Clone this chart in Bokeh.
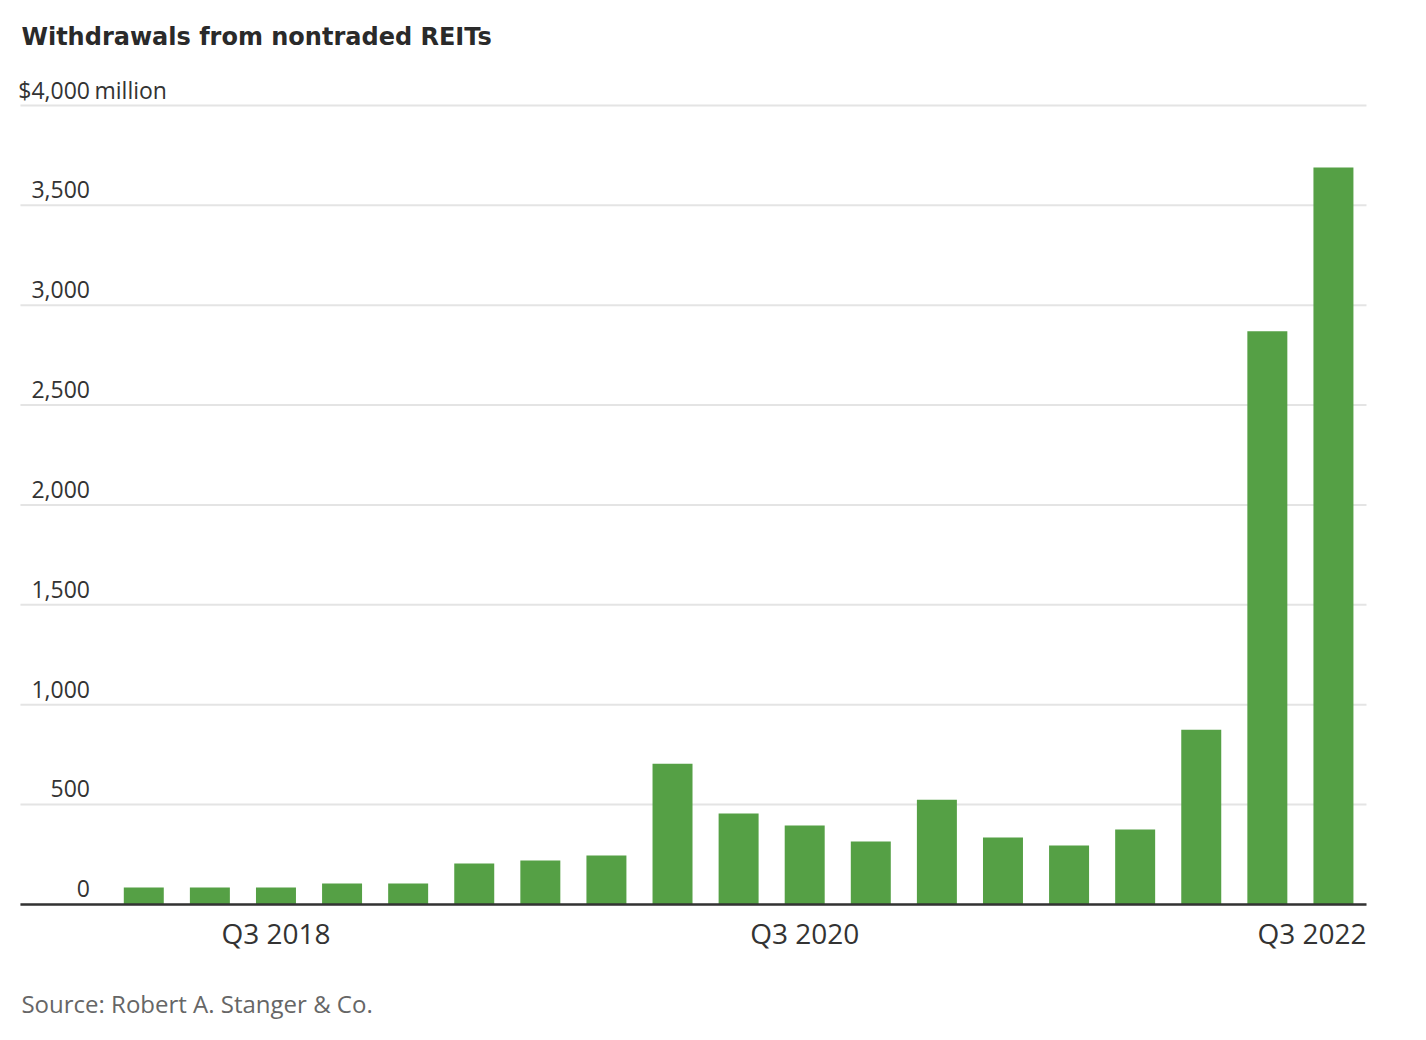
from bokeh.plotting import figure
from bokeh.models import Range1d, ColumnDataSource
from bokeh.core.properties import value
from bokeh.embed import file_html
from bokeh.resources import INLINE

# ---- data ----
quarters = ["Q1 2018", "Q2 2018", "Q3 2018", "Q4 2018",
            "Q1 2019", "Q2 2019", "Q3 2019", "Q4 2019",
            "Q1 2020", "Q2 2020", "Q3 2020", "Q4 2020",
            "Q1 2021", "Q2 2021", "Q3 2021", "Q4 2021",
            "Q1 2022", "Q2 2022", "Q3 2022"]
withdrawals = [85, 85, 85, 105, 105, 205, 220, 245, 705, 455, 395, 315,
               525, 335, 295, 375, 875, 2870, 3690]
y_ticks = [0, 500, 1000, 1500, 2000, 2500, 3000, 3500, 4000]
y_tick_labels = ["0", "500", "1,000", "1,500", "2,000", "2,500", "3,000", "3,500", "$4,000"]
y_unit = "million"
x_tick_labels = ["Q3 2018", "Q3 2020", "Q3 2022"]
title_text = "Withdrawals from nontraded REITs"
source_text = "Source: Robert A. Stanger & Co."

FONT = "Open Sans"
GREEN = "#55a045"
TXT = "#333333"

# plot-area extent (in data units) used for gridlines and baseline
X_LEFT, X_RIGHT = -1.866, 18.50
PX_PER_UNIT = 0.19976  # vertical pixels per million


def px_up(px):
    """convert a vertical pixel distance to data units"""
    return px / PX_PER_UNIT


x_idx = list(range(len(quarters)))
src = ColumnDataSource(dict(x=x_idx, top=withdrawals, q=quarters))

p = figure(width=1410, height=1024, output_backend="svg", toolbar_location=None,
           x_range=Range1d(-2.168, 19.166), y_range=Range1d(-600.7, 4525.4),
           min_border=0)
p.outline_line_color = None
p.xaxis.visible = False
p.yaxis.visible = False
p.grid.visible = False

# gridlines
p.segment(x0=[X_LEFT] * len(y_ticks), x1=[X_RIGHT] * len(y_ticks),
          y0=y_ticks, y1=y_ticks, line_color="#e4e4e4", line_width=2)

p.vbar(x="x", top="top", bottom=0, width=0.605, source=src,
       fill_color=GREEN, line_color=None)

# baseline
p.segment(x0=[X_LEFT], x1=[X_RIGHT], y0=[0], y1=[0], line_color="#333333", line_width=2.5)

# y tick labels, sitting above the gridlines
lift = px_up(6.5 + 9.2)
ylab = ColumnDataSource(dict(x=[-0.814] * len(y_ticks), y=[t + lift for t in y_ticks],
                             t=y_tick_labels))
p.text(x="x", y="y", text="t", source=ylab, text_align="right",
       text_baseline="alphabetic", text_font=value(FONT),
       text_font_size="23px", text_color=TXT)
p.text(x=[-0.746], y=[y_ticks[-1] + lift], text=[y_unit], text_align="left",
       text_baseline="alphabetic", text_font=value(FONT),
       text_font_size="23px", text_color=TXT)

# x tick labels
x_label_pos = [quarters.index(l) for l in x_tick_labels]
xl_x = x_label_pos[:-1] + [X_RIGHT]
xl_align = ["center"] * (len(x_label_pos) - 1) + ["right"]
xlab = ColumnDataSource(dict(x=xl_x, y=[px_up(-40 + 11.2)] * len(xl_x),
                             t=x_tick_labels, a=xl_align))
p.text(x="x", y="y", text="t", text_align="a", source=xlab,
       text_baseline="alphabetic", text_font=value(FONT),
       text_font_size="28px", text_color=TXT)

# title and source
p.text(x=[-1.851], y=[px_up(864.5 + 3.4)], text=[title_text], text_align="left",
       text_baseline="alphabetic", text_font=value("DejaVu Sans"), text_font_style="bold",
       text_font_size="24px", text_color="#2a2a2a")
p.text(x=[-1.851], y=[px_up(-109 + 9.6)], text=[source_text], text_align="left",
       text_baseline="alphabetic", text_font=value(FONT),
       text_font_size="24px", text_color="#666666")

open("out.html", "w").write(file_html(p, INLINE))
